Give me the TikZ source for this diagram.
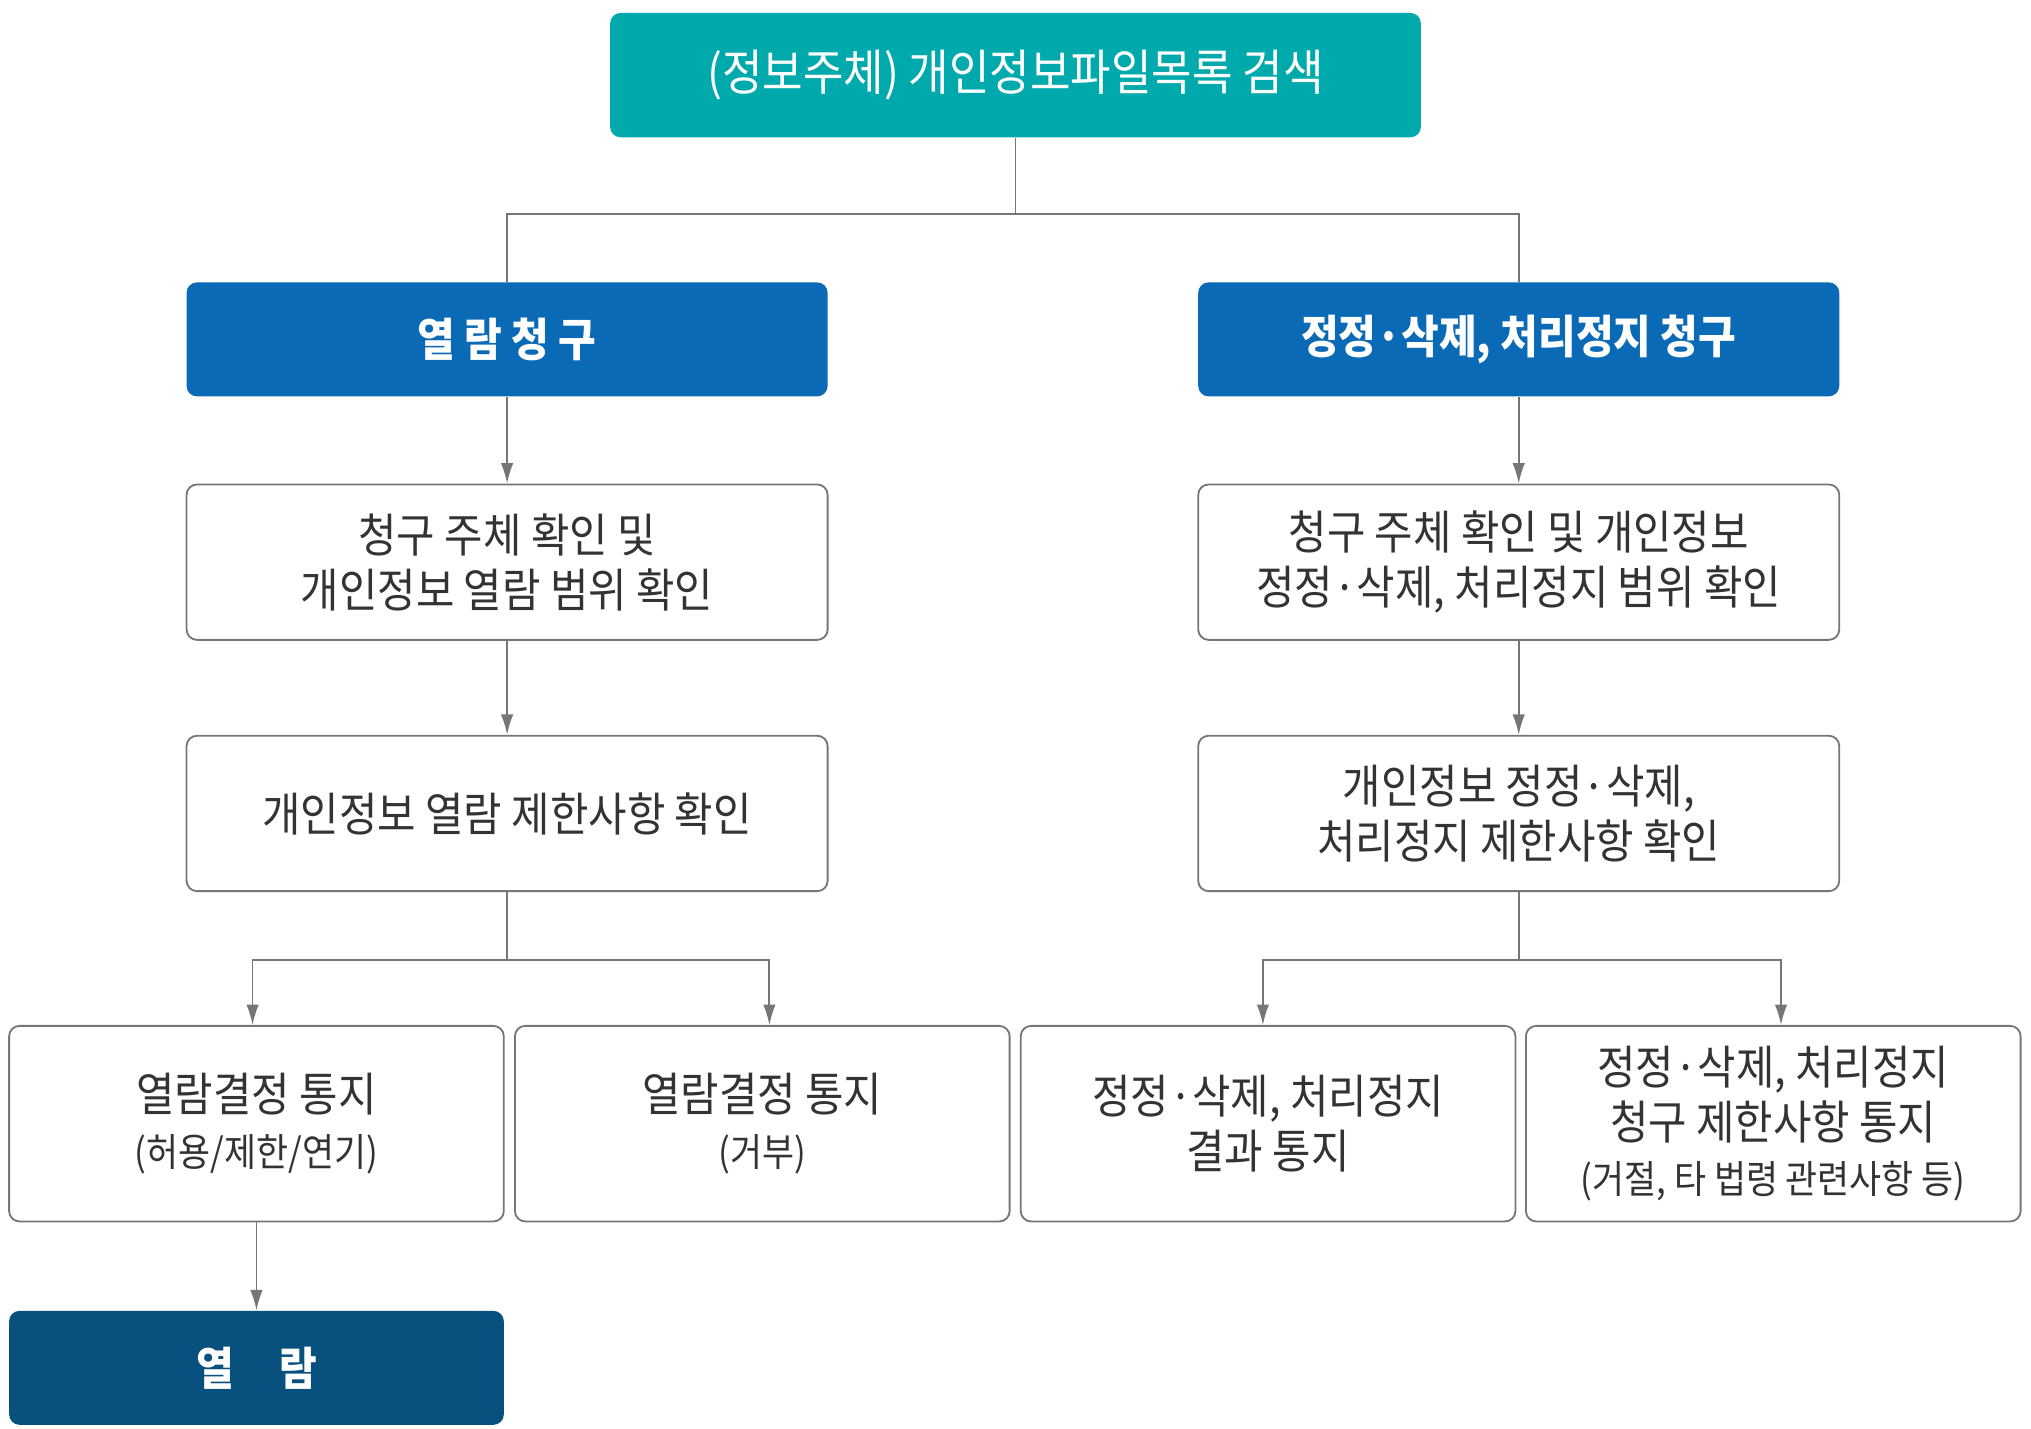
\documentclass[tikz,border=0pt]{standalone}
\usepackage{fontspec}
\setmainfont{Noto Sans CJK KR}[FakeStretch=0.9]
\usetikzlibrary{arrows.meta}
\pgfdeclarelayer{edgelayer}
\pgfdeclarelayer{nodelayer}
\pgfsetlayers{edgelayer,nodelayer,main}
\definecolor{headteal}{RGB}{0,170,172}
\definecolor{reqblue}{RGB}{10,106,182}
\definecolor{endnavy}{RGB}{8,81,127}
\definecolor{linegray}{RGB}{118,118,118}
\definecolor{textgray}{RGB}{51,51,51}
\newcommand{\subnote}[1]{{\fontsize{17}{24}\selectfont #1}}
\tikzstyle{head}=[rectangle,rounded corners=0.16cm,fill=headteal,text=white,minimum width=12.52cm,minimum height=1.92cm,font=\fontsize{21.5}{24}\selectfont]
\tikzstyle{request}=[rectangle,rounded corners=0.16cm,fill=reqblue,text=white,minimum width=9.9cm,minimum height=1.76cm,font=\fontsize{20}{24}\selectfont\bfseries]
\tikzstyle{view}=[request,fill=endnavy,minimum width=7.64cm]
\tikzstyle{check}=[rectangle,rounded corners=0.16cm,draw=linegray,line width=0.8pt,fill=white,text=textgray,align=center,minimum width=9.9cm,minimum height=2.4cm,font=\fontsize{20.4}{24}\selectfont]
\tikzstyle{notice}=[check,minimum width=7.64cm,minimum height=3.02cm]
\tikzstyle{link}=[draw=linegray,line width=0.8pt]
\tikzstyle{transition}=[-{Latex[length=9pt,width=5.5pt]},draw=linegray,line width=0.8pt]

\begin{document}
\begin{tikzpicture}[x=0.02cm,y=-0.02cm]
	\useasboundingbox (0,0) rectangle (1568,1103);
	\begin{pgfonlayer}{nodelayer}
		\node [style=head] (0) at (784, 58) {(정보주체) 개인정보파일목록 검색};
		\node [style=request] (1) at (391.5, 262) {열 람 청 구};
		\node [style=request] (2) at (1172.5, 262) {정정·삭제, 처리정지 청구};
		\node [style=check] (3) at (391.5, 434) {청구 주체 확인 및\\개인정보 열람 범위 확인};
		\node [style=check] (4) at (1172.5, 434) {청구 주체 확인 및 개인정보\\정정·삭제, 처리정지 범위 확인};
		\node [style=check] (5) at (391.5, 628) {개인정보 열람 제한사항 확인};
		\node [style=check] (6) at (1172.5, 628) {개인정보 정정·삭제,\\처리정지 제한사항 확인};
		\node [style=notice] (7) at (198, 867.5) {열람결정 통지\\\subnote{(허용/제한/연기)}};
		\node [style=notice] (8) at (588.5, 867.5) {열람결정 통지\\\subnote{(거부)}};
		\node [style=notice] (9) at (979, 867.5) {정정·삭제, 처리정지\\결과 통지};
		\node [style=notice] (10) at (1369, 867.5) {정정·삭제, 처리정지\\청구 제한사항 통지\\\subnote{(거절, 타 법령 관련사항 등)}};
		\node [style=view] (11) at (198, 1056) {열\quad 람};
		\coordinate (j0) at (784, 165);
		\coordinate (j1) at (391.5, 741);
		\coordinate (j2) at (1172.5, 741);
	\end{pgfonlayer}
	\begin{pgfonlayer}{edgelayer}
		\draw [style=link] (0) to (j0);
		\draw [style=link] (j0) -| (1);
		\draw [style=link] (j0) -| (2);
		\draw [style=transition] (1) to (3);
		\draw [style=transition] (3) to (5);
		\draw [style=transition] (2) to (4);
		\draw [style=transition] (4) to (6);
		\draw [style=link] (5) to (j1);
		\draw [style=transition] (j1) -| ([xshift=-0.06cm]7.north);
		\draw [style=transition] (j1) -| ([xshift=0.11cm]8.north);
		\draw [style=link] (6) to (j2);
		\draw [style=transition] (j2) -| ([xshift=-0.08cm]9.north);
		\draw [style=transition] (j2) -| ([xshift=0.12cm]10.north);
		\draw [style=transition] (7) to (11);
	\end{pgfonlayer}
\end{tikzpicture}
\end{document}
